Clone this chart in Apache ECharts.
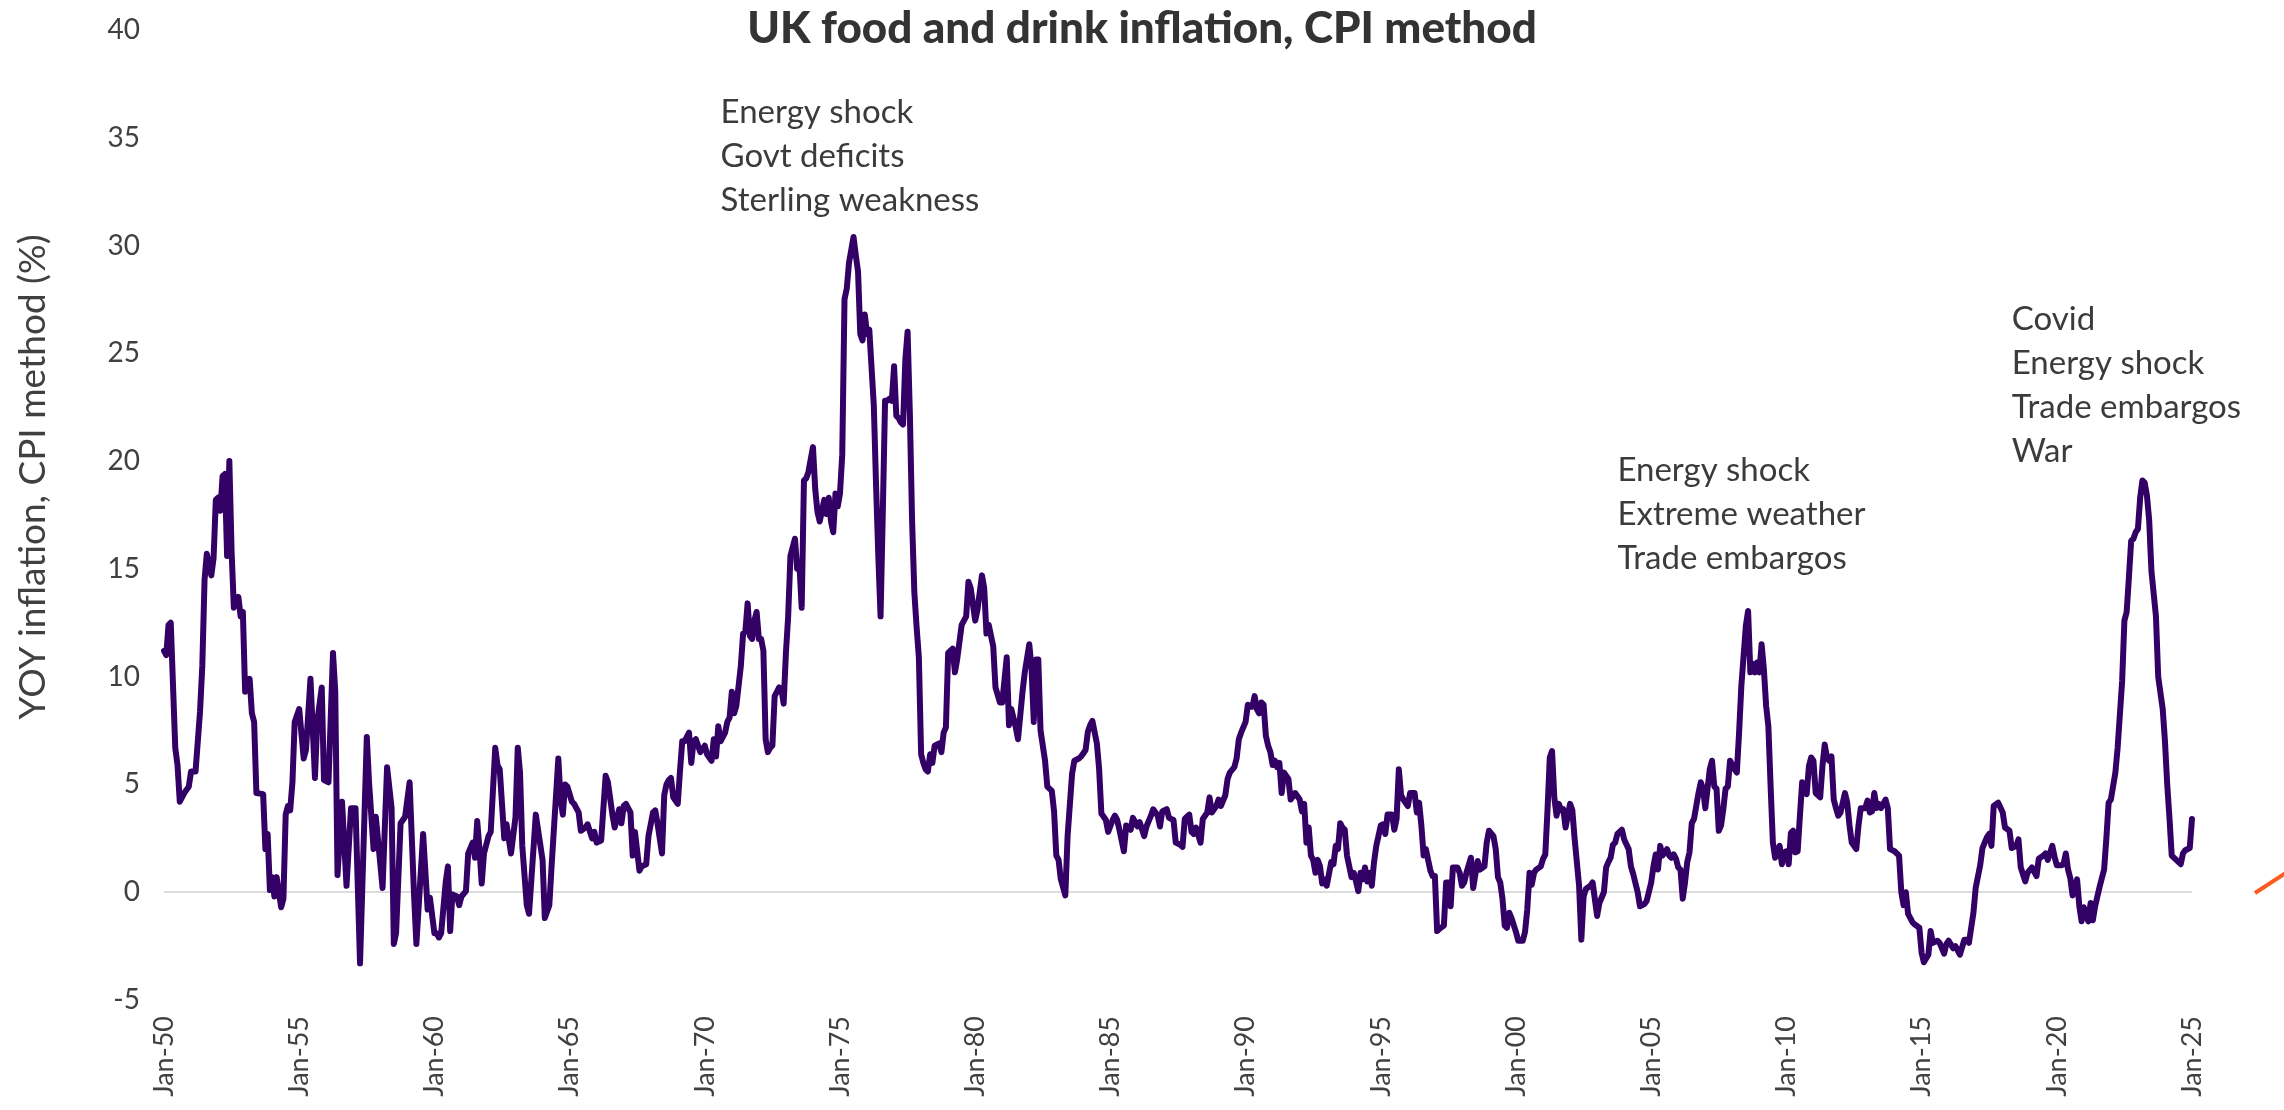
<!DOCTYPE html>
<html>
<head>
<meta charset="utf-8">
<title>UK food and drink inflation, CPI method</title>
<script src="https://cdn.jsdelivr.net/npm/echarts@6/dist/echarts.min.js"></script>
<style>
  html, body { margin: 0; padding: 0; background: #ffffff; }
  #chart { width: 2284px; height: 1110px; }
</style>
</head>
<body>
<div id="chart"></div>
<script>
// YOY food & drink inflation (%), as [months since Jan 1950, value] pairs.
const yoy1950s = [[0,11.2],[1,11.0],[2,12.4],[3,12.5],[5,6.7],[6,5.9],[7,4.2],[9,4.6],[11,4.9],[12,5.6],[14,5.6],[16,8.4],[17,10.5],[18,14.5],[19,15.7],[21,14.7],[22,15.5],[23,18.2],[24,18.3],[25,17.7],[26,19.3],[27,19.4],[28,15.6],[29,20.0],[30,15.8],[31,13.2],[33,13.7],[34,12.8],[35,13.0],[36,9.3],[38,9.9],[39,8.3],[40,7.9],[41,4.6],[44,4.55],[45,2.0],[46,2.7],[47,0.1],[48,0.7],[49,-0.2],[50,0.7],[52,-0.7],[53,-0.3],[54,3.6],[55,4.0],[56,3.8],[57,5.1],[58,7.9],[60,8.5],[62,6.2],[63,6.6],[65,9.9],[67,5.3],[68,7.9],[70,9.5],[71,5.2],[73,5.1],[75,11.1],[76,9.3],[77,0.8],[79,4.2],[81,0.3],[83,3.9],[85,3.9],[87,-3.3],[90,7.2],[91,5.1],[93,2.0],[94,3.5],[97,0.2],[99,5.8],[101,3.9],[102,-2.4],[103,-1.9],[105,3.2],[107,3.5],[109,5.1],[111,-0.2],[112,-2.4],[115,2.7],[117,-0.8],[118,-0.25]];
const yoy1960s = [[120,-1.9],[121,-1.9],[122,-2.1],[123,-1.9],[125,0.45],[126,1.2],[127,-1.8],[128,-0.1],[130,-0.2],[131,-0.6],[132,-0.2],[134,0.05],[135,1.8],[137,2.3],[138,1.6],[139,3.3],[140,2.0],[141,0.4],[142,1.8],[144,2.6],[145,2.8],[147,6.7],[148,5.9],[149,5.7],[151,2.5],[152,3.15],[154,1.8],[156,3.5],[157,6.7],[158,5.55],[159,2.15],[161,-0.6],[162,-1.0],[165,3.6],[168,1.5],[169,-1.2],[171,-0.6],[172,1.2],[175,6.2],[176,4.3],[177,3.6],[178,5.0],[179,4.9],[181,4.2],[182,4.1],[184,3.7],[185,2.85],[187,3.0],[188,3.15],[190,2.5],[191,2.8],[192,2.3],[194,2.4],[196,5.4],[197,5.1],[199,3.6],[200,3.0],[202,3.85],[203,3.2],[204,4.0],[205,4.1],[207,3.7],[208,1.7],[209,2.8],[211,1.0],[212,1.2],[214,1.3],[215,2.6],[217,3.7],[218,3.8],[219,3.2],[221,1.8],[222,4.5],[223,5.0],[224,5.2],[225,5.3],[226,4.4],[228,4.1],[229,5.65],[230,7.0],[231,7.0],[233,7.4],[234,6.0],[235,7.0],[236,7.1],[238,6.5]];
const yoy1970s = [[240,6.8],[241,6.4],[243,6.1],[244,7.1],[245,6.3],[246,7.7],[247,7.0],[249,7.4],[250,7.9],[251,8.1],[252,9.3],[253,8.3],[254,8.65],[256,10.5],[257,12.0],[258,12.1],[259,13.4],[260,11.9],[261,11.75],[262,12.6],[263,13.0],[264,11.75],[265,11.75],[266,11.2],[267,7.1],[268,6.5],[269,6.7],[270,6.8],[271,9.1],[273,9.5],[274,9.4],[275,8.75],[276,11.1],[277,12.8],[278,15.6],[280,16.4],[281,15.0],[282,15.2],[283,13.2],[284,19.1],[285,19.2],[286,19.5],[288,20.65],[289,18.7],[290,17.65],[291,17.2],[293,18.2],[294,17.55],[295,18.3],[296,17.2],[297,16.7],[298,18.5],[299,17.9],[300,18.5],[301,20.3],[302,27.5],[303,28.0],[304,29.2],[306,30.4],[307,29.55],[308,28.8],[309,25.9],[310,25.6],[311,26.8],[312,25.9],[313,26.1],[315,22.6],[316,18.9],[317,15.6],[318,12.8],[319,17.65],[320,22.8],[321,22.8],[322,22.9],[323,22.8],[324,24.4],[325,22.1],[326,22.0],[327,21.8],[328,21.7],[329,24.7],[330,26.0],[331,22.2],[332,17.2],[333,13.9],[334,12.3],[335,10.9],[336,6.4],[337,6.0],[338,5.7],[339,5.6],[340,6.4],[341,6.0],[342,6.8],[344,6.9],[345,6.5],[346,7.4],[347,7.65],[348,11.1],[350,11.3],[351,10.2],[352,10.8],[354,12.4],[356,12.8],[357,14.4],[358,14.1]];
const yoy1980s = [[360,12.6],[361,13.1],[363,14.7],[364,14.1],[365,12.0],[366,12.4],[368,11.4],[369,9.5],[371,8.8],[372,8.8],[374,10.9],[375,7.75],[376,8.5],[378,7.65],[379,7.1],[381,9.3],[382,10.2],[384,11.5],[385,10.4],[386,7.9],[387,10.8],[388,10.8],[389,7.5],[391,6.1],[392,4.9],[394,4.7],[395,3.75],[396,1.7],[397,1.5],[398,0.6],[400,-0.15],[401,2.6],[403,5.5],[404,6.1],[406,6.2],[407,6.3],[409,6.6],[410,7.45],[411,7.75],[412,7.95],[414,6.9],[415,5.7],[416,3.65],[418,3.35],[419,2.8],[421,3.35],[422,3.55],[423,3.35],[424,2.9],[426,1.9],[427,3.1],[429,2.9],[430,3.45],[432,3.05],[433,3.25],[435,2.6],[436,3.05],[438,3.55],[439,3.85],[441,3.55],[442,3.05],[443,3.75],[445,3.85],[446,3.45],[448,3.35],[449,2.3],[451,2.2],[452,2.1],[453,3.4],[454,3.5],[455,3.6],[456,2.8],[457,2.7],[458,3.0],[460,2.3],[461,3.4],[463,3.7],[464,4.4],[465,3.7],[467,4.0],[468,4.3],[469,4.0],[471,4.5],[472,5.25],[473,5.55],[475,5.8],[476,6.2],[477,7.1],[478,7.4]];
const yoy1990s = [[480,7.9],[481,8.7],[482,8.6],[483,8.6],[484,9.1],[485,8.5],[486,8.3],[487,8.8],[488,8.7],[489,7.25],[490,6.8],[491,6.5],[492,5.9],[493,6.1],[494,5.8],[495,6.0],[496,4.6],[497,5.55],[498,5.4],[499,5.25],[500,4.3],[502,4.6],[503,4.45],[504,4.3],[505,3.75],[506,4.1],[507,2.3],[508,3.0],[509,1.7],[510,1.5],[511,0.9],[512,1.5],[513,1.2],[514,0.4],[515,0.6],[516,0.3],[518,1.4],[519,1.3],[520,2.15],[521,2.0],[522,3.2],[523,3.0],[524,2.9],[525,1.7],[527,0.7],[528,0.9],[529,0.5],[530,0.05],[531,0.9],[532,0.6],[533,1.15],[534,0.5],[535,0.9],[536,0.3],[537,1.4],[538,2.15],[540,3.1],[541,3.15],[542,2.7],[543,3.6],[545,3.6],[546,2.9],[547,3.4],[548,5.7],[549,4.5],[550,4.3],[552,4.0],[553,4.6],[555,4.6],[556,3.7],[557,4.15],[558,3.1],[559,1.7],[560,2.0],[561,1.5],[562,1.0],[563,0.75],[564,0.75],[565,-1.8],[566,-1.7],[568,-1.55],[569,0.45],[570,0.45],[571,-0.65],[572,1.15],[574,1.15],[575,0.9],[576,0.3],[577,0.45],[578,0.9],[580,1.6],[581,0.2],[582,0.85],[583,1.45],[584,1.05],[586,1.2],[587,2.3],[588,2.85],[590,2.6],[591,2.0],[592,0.7],[593,0.45],[594,-0.3],[595,-1.55],[596,-1.65],[597,-0.95],[598,-1.2]];
const yoy2000s = [[600,-1.85],[601,-2.25],[603,-2.25],[604,-1.85],[605,-0.8],[606,0.9],[607,0.35],[608,0.9],[609,1.05],[611,1.2],[612,1.55],[613,1.75],[614,3.85],[615,6.25],[616,6.55],[617,4.4],[618,3.55],[619,4.1],[620,3.8],[621,3.85],[622,3.0],[624,4.1],[625,3.8],[626,2.5],[628,0.3],[629,-2.2],[630,-0.2],[631,0.15],[633,0.3],[634,0.45],[636,-1.1],[637,-0.5],[639,0.0],[640,1.15],[641,1.4],[642,1.6],[643,2.2],[644,2.3],[645,2.7],[647,2.9],[648,2.45],[650,2.0],[651,1.2],[652,0.85],[654,0.0],[655,-0.65],[657,-0.55],[658,-0.4],[660,0.45],[661,1.2],[662,1.75],[663,1.05],[664,2.15],[665,1.7],[667,2.0],[668,1.7],[669,1.6],[670,1.75],[671,1.55],[672,1.15],[673,1.05],[674,-0.3],[675,0.45],[676,1.4],[677,1.85],[678,3.2],[679,3.4],[680,4.0],[681,4.6],[682,5.1],[683,4.8],[684,3.9],[685,4.8],[686,5.7],[687,6.1],[688,4.9],[689,4.8],[690,2.85],[691,3.1],[692,3.85],[693,4.8],[694,4.9],[695,6.1],[697,5.7],[698,5.55],[699,7.4],[700,9.55],[702,12.35],[703,13.05],[704,10.2],[705,10.6],[706,10.2],[707,10.65],[708,10.2],[709,11.5],[710,10.35],[711,8.65],[712,7.7],[713,4.9],[714,2.3],[715,1.6],[717,2.15],[718,1.3],[719,1.85]];
const yoy2010s = [[720,1.9],[721,1.3],[722,2.75],[723,2.85],[724,1.85],[725,1.9],[726,3.55],[727,5.1],[729,4.55],[730,5.85],[731,6.25],[732,6.1],[733,4.6],[735,4.4],[736,5.85],[737,6.85],[738,6.25],[739,6.1],[740,6.3],[741,4.3],[742,3.9],[743,3.55],[744,3.7],[746,4.6],[747,4.15],[748,3.1],[749,2.3],[750,2.15],[751,2.0],[752,3.1],[753,3.9],[755,3.9],[756,4.25],[757,3.7],[758,3.75],[759,4.6],[760,3.9],[761,4.1],[762,3.9],[764,4.3],[765,3.9],[766,2.0],[768,1.9],[770,1.7],[771,0.0],[772,-0.6],[773,0.0],[774,-1.0],[776,-1.4],[777,-1.5],[779,-1.65],[780,-2.8],[781,-3.25],[783,-2.9],[784,-1.8],[785,-2.35],[787,-2.25],[788,-2.35],[790,-2.85],[791,-2.4],[792,-2.25],[794,-2.6],[795,-2.5],[797,-2.9],[799,-2.2],[800,-2.2],[801,-2.35],[803,-0.95],[804,0.2],[806,1.25],[807,2.05],[809,2.55],[810,2.7],[811,2.15],[812,4.0],[814,4.15],[816,3.7],[817,3.0],[819,2.85],[820,2.05],[822,2.15],[823,2.45],[824,1.15],[826,0.5],[827,0.9],[829,1.15],[831,0.75],[832,1.55],[834,1.7],[835,1.8],[836,1.5],[838,2.15],[839,1.65]];
const yoy2020s = [[840,1.25],[842,1.25],[843,1.3],[844,1.8],[845,1.05],[846,0.65],[847,-0.15],[849,0.6],[850,-0.65],[851,-1.35],[852,-0.7],[854,-1.35],[855,-0.5],[856,-1.3],[857,-0.65],[859,0.25],[861,1.05],[862,2.5],[863,4.15],[864,4.3],[866,5.55],[867,6.7],[869,9.8],[870,12.6],[871,13.0],[872,14.6],[873,16.3],[874,16.4],[875,16.7],[876,16.85],[877,18.3],[878,19.1],[879,19.0],[880,18.4],[881,17.25],[882,14.9],[884,12.8],[885,10.0],[887,8.5],[888,7.0],[889,5.0],[890,3.45],[891,1.7],[893,1.5],[895,1.3],[896,1.8],[897,1.95],[899,2.05],[900,3.4]];

// Axis tick labels, one every 60 months.
const tickLabels = ['Jan-50','Jan-55','Jan-60','Jan-65','Jan-70','Jan-75','Jan-80','Jan-85','Jan-90','Jan-95','Jan-00','Jan-05','Jan-10','Jan-15','Jan-20','Jan-25'];

// Notes on the main inflation episodes.
const notes1970s = ['Energy shock', 'Govt deficits', 'Sterling weakness'];
const notes2000s = ['Energy shock', 'Extreme weather', 'Trade embargos'];
const notes2020s = ['Covid', 'Energy shock', 'Trade embargos', 'War'];

const FONT = 'Lato, "Open Sans", sans-serif';
const TEXT_DARK = '#3b3b3b';

const series = [].concat(yoy1950s, yoy1960s, yoy1970s, yoy1980s, yoy1990s, yoy2000s, yoy2010s, yoy2020s);

// Only the zero line is drawn among the horizontal grid lines (ticks -5, 0, 5 ... 40).
const gridColors = tickLabels.slice(0, 10).map((_, i) => (i === 1 ? '#dcdcdc' : 'rgba(0,0,0,0)'));

const chart = echarts.init(document.getElementById('chart'), null, { renderer: 'canvas' });

chart.setOption({
  animation: false,
  backgroundColor: '#ffffff',
  title: {
    text: 'UK food and drink inflation, CPI method',
    left: 'center',
    top: 7,
    padding: 0,
    textStyle: { fontFamily: FONT, fontSize: 44, fontWeight: 900, color: '#333333' }
  },
  grid: { left: 164, right: 92, top: 30, bottom: 110 },
  xAxis: {
    type: 'value',
    min: 0,
    max: 900,
    interval: 60,
    axisLine: { show: false },
    axisTick: { show: false },
    splitLine: { show: false },
    axisLabel: {
      rotate: 90,
      margin: 16,
      fontSize: 27,
      color: '#404040',
      fontFamily: FONT,
      showMinLabel: true,
      showMaxLabel: true,
      formatter: v => tickLabels[Math.round(v / 60)]
    }
  },
  yAxis: {
    type: 'value',
    min: -5,
    max: 40,
    interval: 5,
    axisLine: { show: false },
    axisTick: { show: false },
    splitLine: { show: true, lineStyle: { color: gridColors, width: 2 } },
    axisLabel: { margin: 24, fontSize: 28, color: '#404040', fontFamily: FONT }
  },
  series: [{
    type: 'line',
    name: 'Food and drink CPI, YOY',
    data: series,
    symbol: 'none',
    showSymbol: false,
    lineStyle: { color: '#330066', width: 6, join: 'round', cap: 'round' },
    z: 3
  }]
});

// Text notes anchored to data coordinates, the axis name and the edge stroke.
function noteBlock(lines, month, value) {
  const p = chart.convertToPixel({ gridIndex: 0 }, [month, value]);
  return {
    type: 'text',
    x: p[0],
    y: p[1],
    style: {
      text: lines.join('\n'),
      fontSize: 33,
      fontFamily: FONT,
      fill: TEXT_DARK,
      lineHeight: 44,
      align: 'left',
      verticalAlign: 'top'
    }
  };
}

chart.setOption({
  graphic: [
    noteBlock(notes1970s, 247, 37.2),
    noteBlock(notes2000s, 645, 20.6),
    noteBlock(notes2020s, 820, 27.6),
    {
      type: 'text',
      x: 33,
      y: 477,
      rotation: Math.PI / 2,
      style: {
        text: 'YOY inflation, CPI method (%)',
        fontSize: 37,
        fontFamily: FONT,
        fill: '#404040',
        align: 'center',
        verticalAlign: 'middle'
      }
    },
    {
      type: 'line',
      shape: { x1: 2255, y1: 893, x2: 2292, y2: 869 },
      style: { stroke: '#ff5a1f', lineWidth: 4 }
    }
  ]
});
</script>
</body>
</html>
